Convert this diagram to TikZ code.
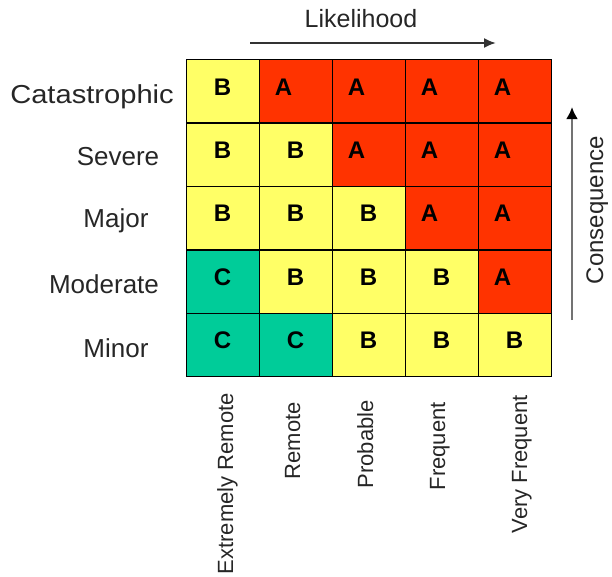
\documentclass[tikz,border=0pt]{standalone}
\usepackage{fontspec}
\setmainfont{Liberation Sans}
\usetikzlibrary{arrows.meta}
\definecolor{cyel}{HTML}{FFFF66}
\definecolor{cred}{HTML}{FF3300}
\definecolor{cgrn}{HTML}{00CC99}
\begin{document}
\begin{tikzpicture}[x=1pt,y=-1pt,
  cellbox/.style={draw=black,line width=1.4pt,minimum width=73pt,minimum height=63.4pt,inner sep=0pt,anchor=north west},
  lett/.style={font=\fontsize{24}{24}\selectfont\bfseries,anchor=base,inner sep=0pt},
  rowlab/.style={font=\fontsize{26}{26}\selectfont,anchor=base,inner sep=0pt,text=black!85},
  collab/.style={font=\fontsize{22}{22}\selectfont,rotate=90,anchor=base east,inner sep=0pt,text=black!85},
  axlab/.style={font=\fontsize{24}{24}\selectfont,inner sep=0pt,text=black!85}]
\useasboundingbox (0,0) rectangle (612,576);
% cells: row r (1..5), col c (1..5)
\foreach \r/\c/\col in {
 1/1/cyel,1/2/cred,1/3/cred,1/4/cred,1/5/cred,
 2/1/cyel,2/2/cyel,2/3/cred,2/4/cred,2/5/cred,
 3/1/cyel,3/2/cyel,3/3/cyel,3/4/cred,3/5/cred,
 4/1/cgrn,4/2/cyel,4/3/cyel,4/4/cyel,4/5/cred,
 5/1/cgrn,5/2/cgrn,5/3/cyel,5/4/cyel,5/5/cyel}{
  \node[cellbox,fill=\col] (cell\r\c) at ({186+73*(\c-1)},{59+63.4*(\r-1)}) {};
}
% letters
\foreach \r/\c/\l/\dx in {
 1/1/B/0,1/2/A/-12,1/3/A/-12,1/4/A/-12,1/5/A/-12,
 2/1/B/0,2/2/B/0,2/3/A/-12,2/4/A/-12,2/5/A/-12,
 3/1/B/0,3/2/B/0,3/3/B/0,3/4/A/-12,3/5/A/-12,
 4/1/C/0,4/2/B/0,4/3/B/0,4/4/B/0,4/5/A/-12,
 5/1/C/0,5/2/C/0,5/3/B/0,5/4/B/0,5/5/B/0}{
  \node[lett] (l\r\c) at ({186+73*(\c-1)+36.5+\dx},{59+63.4*(\r-1)+36}) {\l};
}
% row labels
\node[rowlab] (rcat) at (92,103) {\scalebox{1.12}[1]{Catastrophic}};
\node[rowlab] (rsev) at (118,165) {Severe};
\node[rowlab] (rmaj) at (116,227) {Major};
\node[rowlab] (rmod) at (104,293) {Moderate};
\node[rowlab] (rmin) at (116,357) {Minor};
% column labels
\node[collab] (cer) at (233,393) {Extremely Remote};
\node[collab] (crem) at (300,402) {Remote};
\node[collab] (cpro) at (373,400) {Probable};
\node[collab] (cfre) at (445,402) {Frequent};
\node[collab] (cvf) at (527,395) {Very Frequent};
% axes
\node[axlab,anchor=base,font=\fontsize{25}{25}\selectfont] (like) at (361,27) {Likelihood};
\coordinate (la) at (250,43);
\coordinate (lb) at (496,43);
\draw[line width=2pt,draw=black!80,-{Latex[length=12pt,width=10pt]}] (la) -- (lb);
\node[axlab,rotate=90,anchor=base] (cons) at (603,210) {Consequence};
\coordinate (ca) at (572,320);
\coordinate (cb) at (572,107);
\draw[line width=2.5pt,draw=black!55,-{Latex[length=12pt,width=12pt,color=black]}] (ca) -- (cb);
\end{tikzpicture}
\end{document}
